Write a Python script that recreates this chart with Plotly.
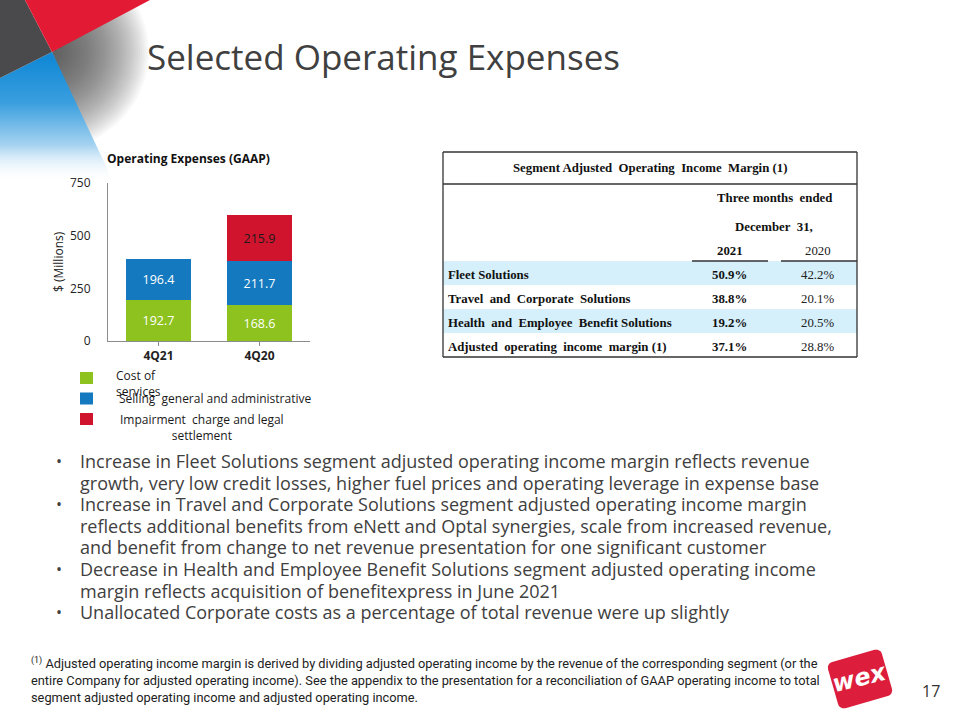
import math
import plotly.graph_objects as go

W, H = 960, 720

# ---------------- data ----------------
quarters = ["4Q21", "4Q20"]
cost_of_services = [192.7, 168.6]
selling_general_admin = [196.4, 211.7]
impairment_legal = [None, 215.9]
y_tick_values = [0, 250, 500, 750]

legend_labels = ["Cost of<br>services",
                 "Selling  general and administrative",
                 "Impairment  charge and legal<br>settlement"]

table_title = "Segment Adjusted  Operating  Income  Margin (1)"
table_period = ["Three months  ended", "December  31,"]
table_years = ["2021", "2020"]
segments = ["Fleet Solutions",
            "Travel  and  Corporate  Solutions",
            "Health  and  Employee  Benefit Solutions",
            "Adjusted  operating  income  margin (1)"]
margin_2021 = [50.9, 38.8, 19.2, 37.1]
margin_2020 = [42.2, 20.1, 20.5, 28.8]

bullet_lines = [
    "Increase in Fleet Solutions segment adjusted operating income margin reflects revenue",
    "growth, very low credit losses, higher fuel prices and operating leverage in expense base",
    "Increase in Travel and Corporate Solutions segment adjusted operating income margin",
    "reflects additional benefits from eNett and Optal synergies, scale from increased revenue,",
    "and benefit from change to net revenue presentation for one significant customer",
    "Decrease in Health and Employee Benefit Solutions segment adjusted operating income",
    "margin reflects acquisition of benefitexpress in June 2021",
    "Unallocated Corporate costs as a percentage of total revenue were up slightly",
]
bullet_starts = [0, 2, 5, 7]

footnote_lines = [
    "<sup>(1)</sup> Adjusted operating income margin is derived by dividing adjusted operating income by the revenue of the corresponding segment (or the",
    "entire Company for adjusted operating income). See the appendix to the presentation for a reconciliation of GAAP operating income to total",
    "segment adjusted operating income and adjusted operating income.",
]
page_number = "17"

# ---------------- styles ----------------
GREEN, BLUE, RED = "#8dc21f", "#1479bf", "#d0142e"
SANS = "Open Sans"
SERIF = "Liberation Serif"
TXT = "#404040"

fig = go.Figure()

# ---- corner decoration (pixel-space helper axes x2/y2) ----
C = (52, 52)
aA = math.atan2(0 - 52, 150 - 52)
aB = math.atan2(160 - 52, 104 - 52)
for k in range(44, 0, -1):
    r = 2.2 * k
    xs, ys = [C[0]], [C[1]]
    for j in range(21):
        a = aA - 0.05 + (aB - aA + 0.1) * j / 20
        xs.append(C[0] + r * math.cos(a))
        ys.append(C[1] + r * math.sin(a))
    xs.append(C[0]); ys.append(C[1])
    fig.add_trace(go.Scatter(x=xs, y=ys, fill="toself", mode="lines", line=dict(width=0),
                             fillcolor="rgba(80,80,84,0.04)", xaxis="x2", yaxis="y2",
                             hoverinfo="skip", showlegend=False))

fig.add_trace(go.Scatter(
    x=[0, 52, 106, 112, 0], y=[78, 52, 166, 180, 180], fill="toself", mode="lines",
    line=dict(width=0), xaxis="x2", yaxis="y2", hoverinfo="skip", showlegend=False,
    fillgradient=dict(type="vertical", start=60, stop=182,
                      colorscale=[[0, "#1389d6"], [0.35, "#3a9fdf"], [0.7, "#a6d3f1"], [1, "rgba(255,255,255,0)"]]),
))

# Stacked bars
for vals, name, col, tcol in [
    (cost_of_services, "Cost of services", GREEN, "white"),
    (selling_general_admin, "Selling general and administrative", BLUE, "white"),
    (impairment_legal, "Impairment charge and legal settlement", RED, "#1a1a1a"),
]:
    fig.add_trace(go.Bar(
        x=quarters, y=vals, name=name, marker=dict(color=col, line=dict(width=0)),
        width=0.64, texttemplate="%{y:.1f}", textposition="inside",
        insidetextanchor="middle", textangle=0, constraintext="none",
        textfont=dict(family=SANS, size=12.5, color=tcol),
        showlegend=False, hoverinfo="skip", xaxis="x", yaxis="y",
    ))

# ---------------- pixel-space helpers ----------------
def seg_shape(x0, y0, x1, y1, color="#333", width=1.3, layer="above"):
    return dict(type="line", xref="x2", yref="y2", x0=x0, y0=y0, x1=x1, y1=y1,
                line=dict(color=color, width=width), layer=layer)

def rect_shape(x0, y0, x1, y1, fill, layer="below"):
    return dict(type="rect", xref="x2", yref="y2", x0=x0, y0=y0, x1=x1, y1=y1,
                fillcolor=fill, line=dict(width=0), layer=layer)

def path_shape(pts, fill, layer="below"):
    d = "M " + " L ".join(f"{x:.2f},{y:.2f}" for x, y in pts) + " Z"
    return dict(type="path", xref="x2", yref="y2", path=d, fillcolor=fill,
                line=dict(width=0), layer=layer)

def text(x, y, s, size=12, color="#222", family=SANS, xanchor="left",
         yanchor="middle", align="left", weight="normal", angle=0):
    return dict(xref="x2", yref="y2", x=x, y=y, text=s, showarrow=False,
                xanchor=xanchor, yanchor=yanchor, align=align, textangle=angle,
                font=dict(family=family, size=size, color=color, weight=weight))

shapes, annos = [], []
shapes.append(path_shape([(0, 0), (25, 0), (52, 52), (0, 78)], "#4a4a4d", layer="above"))
shapes.append(path_shape([(25, 0), (150, 0), (52, 52)], "#e21a33", layer="above"))

# ---- titles ----
annos.append(text(145, 56, "Selected Operating Expenses", size=35, color="#404040"))
annos.append(text(188, 158, "Operating Expenses (GAAP)", size=12, color="#111", weight="bold", xanchor="center"))
annos.append(text(58, 262, "$ (Millions)", size=12, color="#222", xanchor="center", angle=-90))

# ---- custom legend ----
for i, col in enumerate([GREEN, BLUE, RED]):
    ytop = 372 + i * 20.5
    shapes.append(rect_shape(80, ytop, 93, ytop + 12, col, layer="above"))
annos.append(text(114, 383, legend_labels[0], size=12, color="#1a1a1a"))
annos.append(text(117, 398, legend_labels[1], size=12, color="#1a1a1a"))
annos.append(text(202, 427.5, legend_labels[2], size=12, color="#1a1a1a", xanchor="center", align="center"))

# ---- table ----
TL, TR, TT, TB = 443, 857, 152, 357
ROW0, ROWH = 261, 24
for i in range(len(segments)):
    if i % 2 == 0:
        shapes.append(rect_shape(TL, ROW0 + i * ROWH, TR, ROW0 + (i + 1) * ROWH, "#d5effb"))
shapes += [
    seg_shape(TL, TT, TR, TT), seg_shape(TL, 184, TR, 184), seg_shape(TL, TB, TR, TB),
    seg_shape(TL, TT, TL, TB), seg_shape(TR, TT, TR, TB),
    seg_shape(692, 261, 768, 261), seg_shape(781, 261, TR, 261),
]
nb = lambda s: s.replace("  ", "\u00a0\u00a0")
TS = 12.8
annos.append(text(650, 168, nb(table_title), size=TS, color="#111", family=SERIF, weight="bold", xanchor="center"))
annos.append(text(774, 198, nb(table_period[0]), size=TS, color="#111", family=SERIF, weight="bold", xanchor="center"))
annos.append(text(774, 227, nb(table_period[1]), size=TS, color="#111", family=SERIF, weight="bold", xanchor="center"))
annos.append(text(730, 251, table_years[0], size=TS, color="#111", family=SERIF, weight="bold", xanchor="center"))
annos.append(text(818, 251, table_years[1], size=TS, color="#222", family=SERIF, xanchor="center"))
for i, (seg, v21, v20) in enumerate(zip(segments, margin_2021, margin_2020)):
    yc = ROW0 + i * ROWH + 14
    annos.append(text(446, yc, nb(seg), size=TS, color="#111", family=SERIF, weight="bold"))
    annos.append(text(749, yc, f"{v21:.1f}%", size=TS, color="#111", family=SERIF, weight="bold", xanchor="right"))
    annos.append(text(836, yc, f"{v20:.1f}%", size=TS, color="#222", family=SERIF, xanchor="right"))

# ---- bullets ----
for i, line in enumerate(bullet_lines):
    yc = 461 + i * 21.6
    annos.append(text(78, yc, line, size=18, color=TXT))
    if i in bullet_starts:
        annos.append(text(59, yc, "•", size=16, color=TXT, xanchor="center"))

# ---- footnote ----
for i, line in enumerate(footnote_lines):
    annos.append(text(29, 663 + i * 17, line, size=12.8, color="#222", family="Roboto"))

# ---- logo & page number ----
cx, cy, hw, hh, rr, ang = 860, 679, 28, 24, 6, math.radians(-16)
pts = []
for (qx, qy, a0) in [(hw - rr, -hh + rr, -90), (hw - rr, hh - rr, 0), (-hw + rr, hh - rr, 90), (-hw + rr, -hh + rr, 180)]:
    for j in range(7):
        a = math.radians(a0 + 90 * j / 6)
        px, py = qx + rr * math.cos(a), qy + rr * math.sin(a)
        pts.append((cx + px * math.cos(ang) - py * math.sin(ang), cy + px * math.sin(ang) + py * math.cos(ang)))
shapes.append(path_shape(pts, "#dc1e3c", layer="above"))
annos.append(text(859, 678, "<i>wex</i>", size=24, color="white", family="DejaVu Sans", weight="bold",
                  xanchor="center", angle=-14))
annos.append(text(931, 691, page_number, size=16, color="#333", family=SANS, xanchor="center"))

fig.update_layout(
    width=W, height=H, autosize=False,
    margin=dict(l=0, r=0, t=0, b=0, pad=0, autoexpand=False),
    paper_bgcolor="white", plot_bgcolor="rgba(0,0,0,0)",
    barmode="stack", bargap=0.36,
    xaxis=dict(domain=[108 / W, 310 / W], showline=True, linecolor="#8c8c8c", linewidth=1,
               ticks="outside", ticklen=4, tickcolor="#8c8c8c", automargin=False,
               tickfont=dict(family=SANS, size=12, color="#222", weight="bold"),
               showgrid=False, zeroline=False, fixedrange=True),
    yaxis=dict(domain=[1 - 341 / H, 1 - 183 / H], range=[0, 750], tickvals=y_tick_values,
               showline=True, linecolor="#8c8c8c", linewidth=1, ticks="", showgrid=False,
               zeroline=False, ticklabelstandoff=14, automargin=False,
               tickfont=dict(family=SANS, size=12, color="#222"), fixedrange=True),
    xaxis2=dict(domain=[0, 1], range=[0, W], visible=False, fixedrange=True, anchor="y2", automargin=False),
    yaxis2=dict(domain=[0, 1], range=[H, 0], visible=False, fixedrange=True, anchor="x2", automargin=False),
    shapes=shapes, annotations=annos,
)

fig.write_html("out.html", config={"displayModeBar": False},
               post_script="document.body.style.margin='0';document.documentElement.style.overflow='hidden';")
